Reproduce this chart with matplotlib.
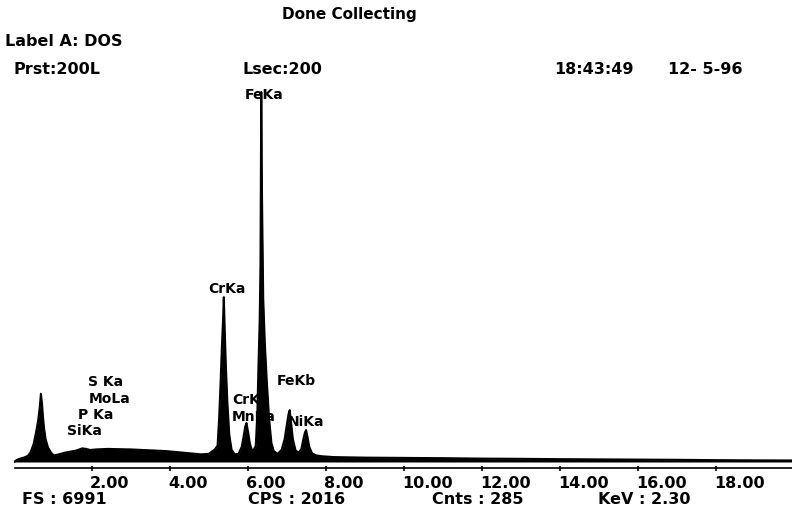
import numpy as np
import matplotlib.pyplot as plt
from matplotlib import transforms

plt.rcParams['font.family'] = ['DejaVu Sans']

# spectrum outline (energy in keV, counts)
energy = [0.00, 0.08, 0.15, 0.25, 0.35, 0.42, 0.50, 0.56, 0.62, 0.66, 0.69, 0.72,
          0.74, 0.77, 0.81, 0.87, 0.95, 1.02, 1.15, 1.30, 1.45, 1.60, 1.75, 1.85,
          1.95, 2.10, 2.40, 2.70, 3.00, 3.30, 3.60, 3.90, 4.20, 4.50, 4.80, 5.00,
          5.15, 5.22, 5.26, 5.30, 5.33, 5.36, 5.38, 5.40, 5.43, 5.47, 5.52, 5.58,
          5.66, 5.76, 5.84, 5.89, 5.93, 5.96, 6.00, 6.05, 6.12, 6.20, 6.24, 6.27,
          6.30, 6.32, 6.34, 6.36, 6.39, 6.43, 6.48, 6.54, 6.60, 6.66, 6.76, 6.86,
          6.94, 7.00, 7.04, 7.07, 7.10, 7.15, 7.22, 7.30, 7.37, 7.42, 7.46, 7.49,
          7.52, 7.57, 7.64, 7.75, 7.90, 8.20, 9.00, 10.0, 11.0, 12.0, 13.0, 14.0,
          15.0, 16.0, 17.0, 18.0, 19.0, 20.0]
counts = [0, 40, 60, 80, 110, 170, 320, 520, 760, 1000, 1250, 1050,
          850, 620, 420, 270, 170, 120, 140, 170, 190, 210, 250, 240,
          220, 230, 240, 235, 230, 220, 210, 200, 180, 160, 140, 150,
          230, 300, 800, 1500, 2100, 2600, 3020, 2500, 1800, 1100, 500, 220,
          140, 150, 280, 480, 650, 715, 560, 330, 180, 300, 900, 1800,
          2600, 3600, 6780, 4800, 3000, 2200, 1500, 800, 350, 200, 150, 220,
          420, 700, 880, 950, 750, 420, 210, 170, 240, 420, 540, 585,
          480, 280, 160, 120, 105, 90, 80, 75, 70, 62, 58, 52,
          48, 44, 40, 34, 30, 28]

tick_kev = [2, 4, 6, 8, 10, 12, 14, 16, 18]
tick_labels = ['2.00', '4.00', '6.00', '8.00', '10.00', '12.00', '14.00', '16.00', '18.00']

peak_names = ['FeKa', 'CrKa', 'FeKb', 'CrKb', 'MnKa', 'NiKa', 'S Ka', 'MoLa', 'P Ka', 'SiKa']
peak_label_x = [5.92, 4.97, 6.74, 5.59, 5.59, 7.02, 1.90, 1.92, 1.64, 1.36]
peak_label_y = [6720, 3170, 1480, 1140, 830, 730, 1460, 1160, 860, 560]

header_left = ['Label A: DOS', 'Prst:200L', 'Lsec:200', '18:43:49', '12- 5-96']
header_px = [(5, 42), (13, 69), (243, 69), (554, 69), (668, 69)]
footer_text = ['FS : 6991', 'CPS : 2016', 'Cnts : 285', 'KeV : 2.30']
footer_px = [22, 248, 432, 598]

W, H = 792, 517
fig = plt.figure(figsize=(W / 100, H / 100), dpi=100)

# axes: 0..20 keV spans px 14..794, counts 0 at px 462, 7000 at px 80
cpp = 7000 / (462 - 80)
y_bot = -(475 - 462) * cpp
ax = fig.add_axes([14 / W, (H - 475) / H, 780 / W, (475 - 80) / H])
ax.set_xlim(0, 20)
ax.set_ylim(y_bot, 7000)
ax.axis('off')

ax.fill_between(energy, 0, counts, color='black', lw=0, zorder=3)
ax.plot(energy, counts, color='black', lw=1.5, zorder=3)

# energy axis line and ticks
axis_y = -6 * cpp
ax.plot([0.02, 20], [axis_y, axis_y], color='black', lw=1.2, clip_on=False)
ax.vlines(tick_kev, axis_y - 3 * cpp, axis_y + 2 * cpp, color='black', lw=1.2)

bold = dict(fontweight='bold', color='black')
trans = transforms.blended_transform_factory(ax.transData, fig.transFigure)
for k, lab in zip(tick_kev, tick_labels):
    ax.text(k - 0.05, 1 - 483 / H, lab, transform=trans, ha='left', va='center',
            fontsize=11.5, **bold)

for name, x, y in zip(peak_names, peak_label_x, peak_label_y):
    ax.text(x, y, name, ha='left', va='center', fontsize=10, zorder=2, **bold)

fig.text(282 / W, 1 - 15 / H, 'Done Collecting', ha='left', va='center', fontsize=11, **bold)
for s, (px, py) in zip(header_left, header_px):
    fig.text(px / W, 1 - py / H, s, ha='left', va='center', fontsize=11.5, **bold)
for s, px in zip(footer_text, footer_px):
    fig.text(px / W, 1 - 500 / H, s, ha='left', va='center', fontsize=11.5, **bold)

fig.savefig('out.png', dpi=100)
